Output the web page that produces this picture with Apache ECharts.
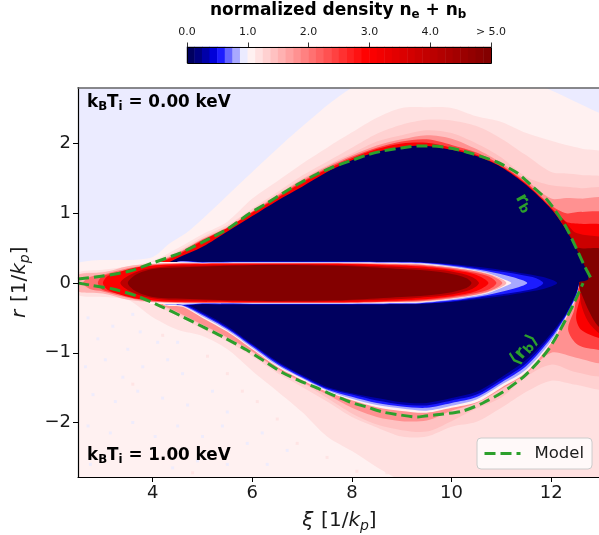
<!DOCTYPE html>
<html><head><meta charset="utf-8">
<style>html,body{margin:0;padding:0;background:#fff;overflow:hidden}#c{width:599px;height:535px}</style>
<script src="https://cdn.jsdelivr.net/npm/echarts@6/dist/echarts.min.js"></script>
</head><body><div id="c"></div>
<script>
// ---------- tick labels ----------
const xTicks = [4, 6, 8, 10, 12];
const yTicks = [-2, -1, 0, 1, 2];
const barTicks = [0, 1, 2, 3, 4, 5];
const barLevels = Array.from({length: 40}, (_, i) => i);

// ---------- model curves [xi, r] ----------
const modelUpper = [[2.5,.057],[3,.10],[3.54,.172],[4,.287],[4.55,.43],[5.01,.59],[5.49,.77],[5.95,1.0],[6.3,1.147],[6.62,1.29],[6.96,1.434],[7.3,1.563],[7.62,1.663],[7.96,1.75],[8.3,1.835],[8.62,1.893],[8.97,1.935],[9.31,1.964],[9.57,1.964],[9.97,1.935],[10.37,1.864],[10.91,1.735],[11.32,1.577],[11.64,1.376],[11.92,1.19],[12.12,1.0],[12.3,.8],[12.54,.444],[12.68,.23],[12.82,.04]];
const modelLower = [[2.5,0],[2.74,-.029],[3.2,-.086],[3.68,-.186],[4.15,-.33],[4.61,-.487],[5.01,-.63],[5.41,-.774],[5.89,-.96],[6.3,-1.147],[6.62,-1.29],[6.96,-1.405],[7.3,-1.505],[7.62,-1.606],[7.96,-1.706],[8.3,-1.778],[8.62,-1.85],[8.97,-1.892],[9.31,-1.921],[9.47,-1.907],[9.83,-1.878],[10.23,-1.835],[10.63,-1.72],[11.03,-1.563],[11.44,-1.348],[11.72,-1.147],[11.94,-.96],[12.18,-.674],[12.44,-.315],[12.64,0]];

// ---------- density contours (upper half, 0.00 keV) ----------
const xiUp = [2.5,3,3.5,4,4.5,5,5.5,6,6.5,7,7.5,8,8.5,9,9.5,10,10.5,11,11.5,12,12.3,12.6,13.1];
const level8Up = [[2.5,.287],[3.95,.358],[4.35,.573],[4.75,.76],[5.95,1.56],[6.96,2.22],[8,2.8],[8.97,3.05],[10.97,3.05],[11.88,2.8],[12.96,2.44],[13.1,2.4]];
const level9Up  = [.15,.19,.24,.32,.50,.70,.88,1.21,1.46,1.71,1.94,2.16,2.37,2.51,2.52,2.51,2.39,2.31,2.15,2.04,1.98,1.93,1.83];
const level10Up = [.12,.16,.21,.30,.46,.66,.83,1.07,1.30,1.54,1.74,1.94,2.14,2.27,2.34,2.33,2.25,2.07,1.83,1.59,1.57,1.55,1.48];
const level11Up = [.11,.15,.20,.29,.44,.64,.81,1.05,1.27,1.50,1.69,1.86,2.03,2.12,2.19,2.15,2.00,1.80,1.52,1.40,1.38,1.36,1.33];
const level14Up = [.10,.14,.19,.28,.43,.63,.80,1.03,1.26,1.48,1.67,1.83,1.97,2.06,2.12,2.07,1.92,1.72,1.47,1.21,1.22,1.21,1.19];
const level19Up = [.09,.13,.18,.27,.42,.62,.79,1.02,1.24,1.46,1.65,1.81,1.94,2.03,2.06,1.98,1.87,1.69,1.44,1.11,1.00,1.02,.98];
const level24Up = [.08,.12,.17,.26,.40,.61,.79,1.01,1.22,1.44,1.63,1.79,1.92,2.00,2.01,1.94,1.84,1.67,1.42,1.08,.88,.85,.80];
const level0Up = [[4.2,0],[4.2,.25],[4.3,.29],[4.5,.36],[5,.52],[5.5,.74],[6,.96],[6.5,1.18],[7,1.38],[7.5,1.59],[8,1.76],[8.5,1.88],[9,1.95],[9.5,1.965],[10,1.91],[10.5,1.82],[11,1.66],[11.5,1.405],[12,1.06],[12.3,.76],[12.55,.43],[12.75,.06],[12.56,.01],[12.56,0]];

// ---------- density contours (lower half, 1.00 keV) ----------
const xiLow = [2.5,3,3.5,4,4.5,5,5.5,6,6.5,7,7.5,8,8.5,9,9.5,10,10.5,11,11.5,12,12.5,13.1];
const level9Low  = [-.17,-.20,-.24,-.49,-.67,-.76,-.95,-1.26,-1.55,-1.85,-2.20,-2.41,-2.64,-2.85,-3.1,-3.1,-3.1,-3.1,-3.1,-3.1,-3.1,-3.1];
const level10Low = [-.05,-.08,-.15,-.30,-.47,-.66,-.84,-1.05,-1.29,-1.49,-1.70,-1.92,-2.07,-2.20,-2.20,-2.06,-1.99,-1.79,-1.56,-1.40,-1.46,-1.49];
const level11Low = [-.03,-.07,-.14,-.28,-.44,-.62,-.80,-1.00,-1.26,-1.43,-1.65,-1.87,-2.03,-2.11,-2.13,-1.98,-1.80,-1.64,-1.34,-1.17,-1.28,-1.30];
const level14Low = [-.02,-.06,-.13,-.27,-.42,-.60,-.78,-.98,-1.23,-1.42,-1.60,-1.79,-1.92,-1.98,-1.97,-1.83,-1.72,-1.52,-1.30,-1.00,-1.07,-1.12];
const level19Right = [[12.46,-.39],[12.34,-.67],[12.54,-.89],[12.96,-.96],[13.1,-.97],[13.1,0],[12.6,0]];
const level24Right = [[12.6,-.15],[12.5,-.49],[12.6,-.67],[12.96,-.79],[13.1,-.8],[13.1,0],[12.6,0]];
const level30Right = [[12.2,.93],[12.45,.74],[12.6,.7],[13.1,.6],[13.1,-.75],[12.96,-.72],[12.74,-.55],[12.6,-.3],[12.56,0]];
const level39Right = [[12.3,.8],[12.5,.52],[12.6,.5],[13.1,.45],[13.1,-.68],[12.96,-.63],[12.82,-.49],[12.66,-.245],[12.56,0],[12.75,.06],[12.55,.43]];

const xiEdge = [4.2,4.6,5,5.5,6,6.5,7,7.5,8,8.5,9,9.5,10,10.5,11,11.5,12,12.3,12.5,12.56];
const level8Edge = [-.30,-.34,-.50,-.70,-.95,-1.20,-1.39,-1.56,-1.68,-1.78,-1.835,-1.86,-1.79,-1.71,-1.50,-1.28,-.86,-.50,-.215,0];
const level6Edge = [-.29,-.33,-.48,-.68,-.93,-1.18,-1.37,-1.54,-1.66,-1.75,-1.80,-1.83,-1.76,-1.67,-1.46,-1.24,-.83,-.48,-.20,0];
const level4Edge = [-.25,-.32,-.46,-.66,-.91,-1.16,-1.355,-1.525,-1.63,-1.72,-1.77,-1.79,-1.72,-1.635,-1.425,-1.19,-.79,-.465,-.18,0];
const level2Edge = [-.22,-.30,-.44,-.64,-.89,-1.14,-1.335,-1.51,-1.60,-1.685,-1.74,-1.755,-1.685,-1.60,-1.39,-1.15,-.755,-.45,-.16,0];
const level0Edge = [-.20,-.28,-.42,-.62,-.875,-1.12,-1.32,-1.49,-1.58,-1.65,-1.71,-1.72,-1.65,-1.56,-1.35,-1.10,-.72,-.43,-.14,0];

// ---------- central bunch: half thickness vs xi ----------
const beam2  = [[4.45,0],[4.45,.29],[5,.305],[6,.31],[7,.31],[8,.31],[9,.305],[9.37,.30],[10.03,.27],[10.72,.215],[11.38,.145],[11.84,.085],[12.12,0]];
const beam4  = [[4.45,0],[4.45,.29],[5,.30],[6,.305],[7,.305],[8,.305],[9,.30],[9.37,.295],[10.03,.26],[10.72,.19],[11.38,.12],[11.7,.07],[11.84,0]];
const beam6  = [[4.45,0],[4.45,.29],[5,.295],[6,.30],[7,.30],[8,.30],[9,.295],[9.37,.29],[10.03,.245],[10.72,.17],[11.2,.09],[11.52,0]];
const beam8  = [[3.9,0],[3.9,.28],[4.1,.30],[4.45,.30],[5,.288],[6,.29],[7,.29],[8,.29],[9,.285],[9.37,.28],[10.03,.23],[10.72,.145],[11.1,.04],[11.2,0]];
const beam12 = [[2.5,0],[2.5,.12],[3,.15],[3.5,.24],[4,.275],[4.5,.283],[5,.283],[8,.283],[9,.277],[9.37,.27],[10.03,.222],[10.72,.135],[11.1,0]];
const beam16 = [[2.6,0],[2.75,.09],[3,.12],[3.5,.21],[4,.27],[4.5,.28],[5,.28],[8,.28],[9,.27],[9.37,.262],[10.03,.215],[10.72,.125],[11.02,0]];
const beam20 = [[2.9,0],[3,.10],[3.5,.18],[4,.25],[4.5,.275],[5,.278],[8,.278],[9,.26],[9.37,.25],[10.03,.2],[10.72,.1],[10.9,0]];
const beam24 = [[3,0],[3.1,.10],[3.37,.17],[3.72,.23],[4.18,.26],[4.75,.27],[5.6,.275],[7.6,.275],[8.6,.26],[9.37,.237],[10.03,.186],[10.5,.115],[10.74,0]];
const beam32 = [[3.35,0],[3.5,.1],[3.8,.19],[4.2,.235],[4.75,.25],[7,.265],[8.6,.24],[9.37,.21],[10,.165],[10.4,.09],[10.55,0]];
const beam39 = [[3.5,0],[3.65,.115],[3.91,.186],[4.17,.215],[4.75,.23],[5.95,.255],[7,.255],[8,.24],[9,.20],[9.37,.186],[9.91,.143],[10.3,.07],[10.4,0]];

// ---------- speckles of the 1.00 keV background [xi, r] ----------
const speckleBlue = [[2.7,-.5],[2.9,-.8],[3.2,-.62],[3.5,-.95],[3.75,-.7],[4.1,-.85],[2.65,-1.2],[3.05,-1.1],[3.4,-1.35],[3.8,-1.2],[4.3,-1.1],[4.6,-1.3],[2.8,-1.6],[3.25,-1.7],[3.7,-1.55],[4.2,-1.65],[4.7,-1.75],[5.2,-1.55],[5.5,-1.85],[2.7,-2.05],[3.15,-2.15],[3.6,-2],[4.05,-2.2],[4.5,-2.05],[5,-2.2],[5.4,-2.05],[5.9,-2.3],[6.2,-2.15],[2.75,-2.6],[4.9,-2.55],[5.5,-2.6],[6.3,-2.6],[6.7,-2.4],[4.4,-2.65],[3.6,-.45],[4.5,-.85]];
const specklePink = [[3.6,-1.45],[4.2,-.75],[5.5,-1.3],[5.8,-1.55],[6.1,-1.7],[6.9,-2.3],[7.5,-2.5],[8.1,-2.7],[8.7,-2.72],[6.5,-1.95],[5.1,-1.05],[4.8,-2.72]];

// ---------- palette of the 40 colourbar levels ----------
const bluePalette = ['#00005f','#00007e','#0000a8','#0000d9','#1c1cff','#6666ff','#a9a9ff','#ebebff'];
const palette = bluePalette.slice();
for (let i = 0; i < 32; i++) {
  if (i < 16) { const g = Math.round(255 * (1 - (i + 0.9) / 16)); palette.push('rgb(255,' + Math.max(g,0) + ',' + Math.max(g,0) + ')'); }
  else { palette.push('rgb(' + Math.round(255 - 128 * (i - 15.5) / 16) + ',0,0)'); }
}

// ---------- layers, painted back to front ----------
const closeBase = pts => [[pts[0][0], 0]].concat(pts, [[pts[pts.length - 1][0], 0]]);
const zip = (xs, rs) => xs.map((x, i) => [x, rs[i]]);
const mirror = pts => pts.concat(pts.slice(0, -1).reverse().slice(0, -1).map(p => [p[0], -p[1]]));
const LAYERS = [
  {k: 7,  pts: [[2.4,0],[2.4,3.2],[13.2,3.2],[13.2,0]], sharp: true},
  {k: 8,  pts: closeBase(level8Up)},
  {k: 9,  pts: closeBase(zip(xiUp, level9Up))},
  {k: 10, pts: closeBase(zip(xiUp, level10Up))},
  {k: 11, pts: closeBase(zip(xiUp, level11Up))},
  {k: 14, pts: closeBase(zip(xiUp, level14Up))},
  {k: 19, pts: closeBase(zip(xiUp, level19Up))},
  {k: 24, pts: closeBase(zip(xiUp, level24Up))},
  {k: 8,  pts: [[2.4,0],[2.4,-3.2],[13.2,-3.2],[13.2,0]], sharp: true},
  {k: 9,  pts: closeBase(zip(xiLow, level9Low))},
  {k: 10, pts: closeBase(zip(xiLow, level10Low))},
  {k: 11, pts: closeBase(zip(xiLow, level11Low))},
  {k: 14, pts: closeBase(zip(xiLow, level14Low))},
  {k: 19, pts: level19Right},
  {k: 24, pts: level24Right},
  {k: 30, pts: level30Right},
  {k: 39, pts: level39Right},
  {k: 8,  pts: closeBase(zip(xiEdge, level8Edge))},
  {k: 6,  pts: closeBase(zip(xiEdge, level6Edge))},
  {k: 4,  pts: closeBase(zip(xiEdge, level4Edge))},
  {k: 2,  pts: closeBase(zip(xiEdge, level2Edge))},
  {k: 0,  pts: closeBase(zip(xiEdge, level0Edge))},
  {k: 0,  pts: level0Up},
  {k: 2,  pts: mirror(beam2)},
  {k: 4,  pts: mirror(beam4)},
  {k: 6,  pts: mirror(beam6)},
  {k: 8,  pts: mirror(beam8)},
  {k: 12, pts: mirror(beam12)},
  {k: 16, pts: mirror(beam16)},
  {k: 20, pts: mirror(beam20)},
  {k: 24, pts: mirror(beam24)},
  {k: 32, pts: mirror(beam32)},
  {k: 39, pts: mirror(beam39)}
];

const FONT = '"DejaVu Sans"';
const GREEN = '#2ca02c';
const fmtMinus = v => String(v).replace('-', '\u2212');
const boldRich = s => ({
  b: {fontFamily: FONT, fontWeight: 'bold', fontSize: s, lineHeight: 20, fill: '#000'},
  s: {fontFamily: FONT, fontWeight: 'bold', fontSize: s * .7, lineHeight: 11, verticalAlign: 'bottom', fill: '#000'}
});
const nameRich = {
  i: {fontFamily: FONT, fontStyle: 'italic', fontSize: 20, lineHeight: 24, color: '#1a1a1a'},
  n: {fontFamily: FONT, fontSize: 20, lineHeight: 24, color: '#1a1a1a'},
  s: {fontFamily: FONT, fontStyle: 'italic', fontSize: 14, lineHeight: 14, verticalAlign: 'bottom', color: '#1a1a1a'}
};
const greenRich = {
  r: {fontFamily: FONT, fontWeight: 'bold', fontSize: 18, fill: GREEN, lineHeight: 20},
  s: {fontFamily: FONT, fontWeight: 'bold', fontSize: 13, fill: GREEN, lineHeight: 11, verticalAlign: 'bottom'}
};
const modelLine = d => ({
  name: 'Model', type: 'line', data: d, xAxisIndex: 0, yAxisIndex: 0, smooth: 0.25, showSymbol: false, symbol: 'none',
  lineStyle: {color: GREEN, width: 3, type: [11, 5]}, itemStyle: {color: GREEN}, z: 6, silent: true, clip: true
});
const speckle = (d, c) => ({type: 'scatter', data: d, xAxisIndex: 0, yAxisIndex: 0, symbol: 'rect', symbolSize: [3, 3], itemStyle: {color: c}, z: 1, silent: true});

const option = {
  animation: false,
  textStyle: {fontFamily: FONT},
  grid: [
    {left: 78, top: 87.5, width: 523, height: 389.5, outerBoundsMode: 'none'},
    {left: 187, top: 47, width: 304, height: 16, outerBoundsMode: 'none'}
  ],
  xAxis: [
    {type: 'value', gridIndex: 0, min: 2.5, max: 13, z: 8,
     axisLine: {onZero: false, lineStyle: {color: '#000', width: 1.2}},
     axisTick: {show: true, length: 5, customValues: xTicks, lineStyle: {color: '#000', width: 1}},
     axisLabel: {customValues: xTicks, fontSize: 18, color: '#1a1a1a', margin: 7, fontFamily: FONT},
     splitLine: {show: false},
     name: '{i|\u03be}  {n|[1/}{i|k}{s|p}{n|]}', nameLocation: 'middle', nameGap: 32,
     nameTextStyle: {rich: nameRich}},
    {type: 'value', gridIndex: 0, min: 2.5, max: 13, position: 'top', z: 8,
     axisLine: {show: true, onZero: false, lineStyle: {color: '#666', width: 1.5}},
     axisTick: {show: false}, axisLabel: {show: false}, splitLine: {show: false}},
    {type: 'category', gridIndex: 1, data: barLevels, show: false},
    {type: 'value', gridIndex: 1, min: 0, max: 5, interval: 1, position: 'top', z: 8,
     axisLine: {show: false, onZero: false},
     axisTick: {show: true, length: 4.5, customValues: barTicks, lineStyle: {color: '#000', width: .8}},
     axisLabel: {fontSize: 11, color: '#1a1a1a', margin: 9, fontFamily: FONT, hideOverlap: false,
       formatter: v => v === 5 ? '> 5.0' : v.toFixed(1)},
     splitLine: {show: false}}
  ],
  yAxis: [
    {type: 'value', gridIndex: 0, min: -2.781, max: 2.803, z: 8,
     axisLine: {show: true, onZero: false, lineStyle: {color: '#000', width: 1.2}},
     axisTick: {show: true, length: 5, customValues: yTicks, lineStyle: {color: '#000', width: 1}},
     axisLabel: {customValues: yTicks, fontSize: 18, color: '#1a1a1a', margin: 7, formatter: fmtMinus, fontFamily: FONT},
     splitLine: {show: false},
     name: '{i|r}  {n|[1/}{i|k}{s|p}{n|]}', nameLocation: 'middle', nameGap: 46,
     nameTextStyle: {rich: nameRich}},
    {type: 'category', gridIndex: 1, data: ['bar'], show: false}
  ],
  visualMap: {type: 'continuous', show: false, seriesIndex: 1, min: 0, max: 39, dimension: 2, inRange: {color: palette}},
  legend: {
    data: ['Model'], left: 477, top: 438, orient: 'horizontal', itemWidth: 36, itemHeight: 14, padding: [7, 8, 7, 6],
    backgroundColor: 'rgba(255,255,255,0.8)', borderColor: '#ccc', borderWidth: 1, borderRadius: 4,
    itemStyle: {opacity: 0}, lineStyle: {width: 3, type: [11, 5], color: GREEN},
    textStyle: {fontFamily: FONT, fontSize: 16.5, color: '#1a1a1a', padding: [0, 0, 0, 9]}, selectedMode: false
  },
  series: [
    {type: 'custom', xAxisIndex: 0, yAxisIndex: 0, clip: true, silent: true, z: 0,
     data: LAYERS.map((l, i) => [l.pts[0][0], l.pts[0][1], i]),
     encode: {x: 0, y: 1},
     renderItem: (params, api) => {
       const layer = LAYERS[api.value(2)];
       return {type: 'polygon', shape: {points: layer.pts.map(p => api.coord(p)), smooth: layer.sharp ? 0 : 0.3}, style: {fill: palette[layer.k]}};
     }},
    {type: 'heatmap', xAxisIndex: 2, yAxisIndex: 1, data: barLevels.map(i => [i, 0, i]), silent: true},
    speckle(speckleBlue, palette[7]),
    speckle(specklePink, palette[9]),
    modelLine(modelUpper),
    modelLine(modelLower)
  ],
  graphic: [
    {type: 'text', left: 210, top: 2, z: 20, style: {rich: boldRich(17), text: '{b|normalized density n}{s|e}{b| + n}{s|b}'}},
    {type: 'text', left: 87, top: 94, z: 20, style: {rich: boldRich(16.8), text: '{b|k}{s|B}{b|T}{s|i}{b| = 0.00 keV}'}},
    {type: 'text', left: 87, top: 447, z: 20, style: {rich: boldRich(16.8), text: '{b|k}{s|B}{b|T}{s|i}{b| = 1.00 keV}'}},
    {type: 'text', x: 524, y: 203, rotation: -1.05, z: 20, style: {align: 'center', verticalAlign: 'middle', rich: greenRich, text: '{r|r}{s|b}'}},
    {type: 'text', x: 524, y: 350, rotation: 0.87, z: 20, style: {align: 'center', verticalAlign: 'middle', rich: greenRich, text: '{r|\u27e8r}{s|b}{r|\u27e9}'}},
    {type: 'rect', shape: {x: 187.5, y: 47.5, width: 304, height: 16}, style: {fill: 'none', stroke: '#000', lineWidth: 1}, z: 20, silent: true}
  ]
};
const chart = echarts.init(document.getElementById('c'), null, {renderer: 'canvas'});
chart.setOption(option);
</script></body></html>
